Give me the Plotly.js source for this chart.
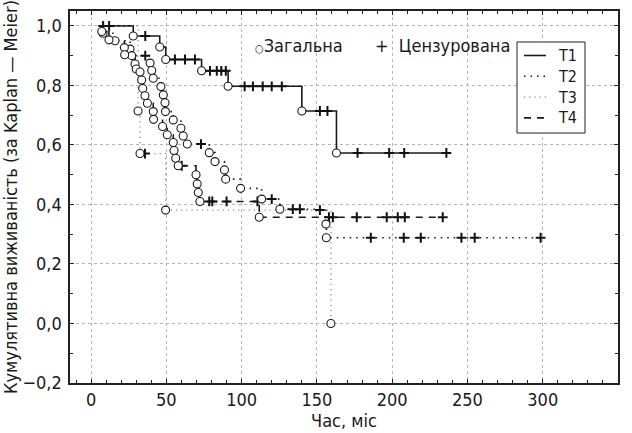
<!DOCTYPE html>
<html><head><meta charset="utf-8">
<script src="https://cdn.plot.ly/plotly-3.0.1.min.js"></script>
<style>html,body{margin:0;padding:0;background:#fff}#chart{width:632px;height:433px}</style>
</head><body><div id="chart"></div>
<script>
// Kaplan–Meier data (time in months, survival)
const seriesNames = ['T1', 'T2', 'T3', 'T4'];

const t1Event = [28, 45.6, 49.6, 73.4, 91, 140, 163];
const t1Surv  = [0.966, 0.929, 0.887, 0.849, 0.797, 0.714, 0.573];
const t1Cens  = [8, 12, 36, 55.7, 62.4, 69, 79, 83.5, 86.5, 89.5, 102, 107.5, 114, 120, 126.7, 152, 157, 177, 198, 208, 236];

const t2Event = [7.9, 15.9, 25.9, 27, 39.2, 40.3, 41.3, 46.4, 48, 49.1, 49.4, 54.6, 59.7, 61.2, 63.9, 78.5, 82.3, 88.6, 89.4, 99.3, 113.3, 125.4, 156, 156.3];
const t2Surv  = [0.975, 0.95, 0.922, 0.9, 0.875, 0.85, 0.824, 0.796, 0.768, 0.742, 0.712, 0.684, 0.656, 0.63, 0.603, 0.574, 0.544, 0.516, 0.485, 0.454, 0.418, 0.384, 0.334, 0.288];
const t2Cens  = [36, 73, 120, 134, 138.7, 185.8, 207.7, 219, 246, 254.8, 298.6];

const t3Event = [31.2, 32.5, 49.5, 159.3];
const t3Surv  = [0.714, 0.571, 0.381, 0.0];
const t3Cens  = [35.8, 152];

const t4Event = [7.1, 11.9, 22.1, 22.3, 29.2, 30, 32.5, 33.6, 34.3, 35.8, 37.4, 41.3, 41.5, 47.5, 50.6, 54.6, 55.1, 56.2, 57.9, 69.7, 70.5, 71.2, 72.3, 111.7];
const t4Surv  = [0.981, 0.953, 0.927, 0.903, 0.872, 0.855, 0.845, 0.818, 0.79, 0.765, 0.74, 0.712, 0.686, 0.662, 0.634, 0.608, 0.581, 0.555, 0.53, 0.5, 0.469, 0.44, 0.41, 0.357];
const t4Cens  = [60.2, 78.5, 80.5, 90, 110.5, 158, 160.6, 176.5, 196.4, 203.7, 208.4, 233.6];

const startTime = 6;

const xTickVals = [0, 50, 100, 150, 200, 250, 300, 350];
const yTickVals = [-0.2, 0, 0.2, 0.4, 0.6, 0.8, 1.0];

const labelEvent = 'Загальна';
const labelCens = 'Цензурована';

const FONT = '"Liberation Sans Narrow", "DejaVu Sans Condensed", "Roboto Condensed", sans-serif';

const styles = {
  T1: {color: '#1a1a1a', width: 1.6, dash: 'solid'},
  T2: {color: '#1a1a1a', width: 1.6, dash: '1.5px,5px'},
  T3: {color: '#8a8a8a', width: 1.3, dash: '1.2px,4px'},
  T4: {color: '#1a1a1a', width: 1.6, dash: '7px,6px'}
};

function stepAt(ev, sv, t) {
  let v = 1;
  for (let i = 0; i < ev.length; i++) if (ev[i] <= t) v = sv[i];
  return v;
}

const sets = [
  [t1Event, t1Surv, t1Cens],
  [t2Event, t2Surv, t2Cens],
  [t3Event, t3Surv, t3Cens],
  [t4Event, t4Surv, t4Cens]
];

const lineTraces = [], circleTraces = [], crossTraces = [];
sets.forEach(([ev, sv, cs], k) => {
  const name = seriesNames[k];
  const end = Math.max(ev[ev.length - 1], cs.length ? cs[cs.length - 1] : 0);
  const xs = [startTime].concat(ev, [end]);
  const ys = [1].concat(sv, [sv[sv.length - 1]]);
  lineTraces.push({
    type: 'scatter', mode: 'lines', name: name, x: xs, y: ys, showlegend: false,
    line: {shape: 'hv', color: styles[name].color, width: styles[name].width, dash: styles[name].dash},
    hoverinfo: 'skip'
  });
  circleTraces.push({
    type: 'scatter', mode: 'markers', x: ev, y: sv, showlegend: false,
    marker: {symbol: 'circle', size: 8, color: '#ffffff', line: {color: '#1a1a1a', width: 1.1}},
    hoverinfo: 'skip'
  });
  crossTraces.push({
    type: 'scatter', mode: 'markers', x: cs, y: cs.map(t => stepAt(ev, sv, t)), showlegend: false,
    marker: {symbol: 'cross-thin', size: 7, color: '#111', line: {color: '#111', width: 2}},
    hoverinfo: 'skip'
  });
});

const data = lineTraces.concat(crossTraces, circleTraces);

const axisCommon = {
  showline: true, linecolor: '#222', linewidth: 1.6, mirror: 'ticks',
  ticks: 'inside', ticklen: 4, tickcolor: '#222', tickwidth: 1,
  showgrid: true, gridcolor: '#b5b5b5', gridwidth: 1, griddash: 'dot',
  zeroline: false,
  tickfont: {family: FONT, size: 18, color: '#1a1a1a'}
};

// manual legend (box, line samples, one multi-line label block) in paper coordinates
const legX0 = 0.8157, legX1 = 0.9398, legY0 = 0.672, legY1 = 0.9167;
const legRowsY = [0.8804, 0.8245, 0.7686, 0.7126];
const shapes = [{type: 'rect', xref: 'paper', yref: 'paper', x0: legX0, x1: legX1, y0: legY0, y1: legY1,
  line: {color: '#222', width: 1}, fillcolor: '#ffffff', layer: 'above'}];
seriesNames.forEach((name, i) => {
  shapes.push({type: 'line', xref: 'paper', yref: 'paper', x0: 0.8285, x1: 0.8686, y0: legRowsY[i], y1: legRowsY[i],
    line: {color: styles[name].color, width: styles[name].width, dash: styles[name].dash}, layer: 'above'});
});
const annotations = [
  {xref: 'paper', yref: 'paper', x: 0.8868, y: 0.7965, xanchor: 'left', yanchor: 'middle', align: 'left',
   showarrow: false, text: seriesNames.join('<br>'), font: {family: FONT, size: 16, color: '#1a1a1a'}},
  {xref: 'paper', yref: 'paper', x: 0.334, y: 0.906, xanchor: 'left', yanchor: 'middle', showarrow: false,
   text: '<span style="font-size:11px">○</span>' + labelEvent, font: {family: FONT, size: 18, color: '#1a1a1a'}},
  {xref: 'paper', yref: 'paper', x: 0.553, y: 0.906, xanchor: 'left', yanchor: 'middle', showarrow: false,
   text: '+  ' + labelCens, font: {family: FONT, size: 18, color: '#1a1a1a'}}
];

const layout = {
  width: 632, height: 433,
  margin: {l: 70, r: 14, t: 11, b: 50},
  paper_bgcolor: '#ffffff', plot_bgcolor: '#ffffff',
  separators: ', ',
  font: {family: FONT, color: '#1a1a1a'},
  showlegend: false,
  xaxis: Object.assign({}, axisCommon, {
    range: [-14, 350], tickmode: 'array', tickvals: xTickVals,
    minor: {dtick: 10, tick0: 0, ticks: 'inside', ticklen: 3, tickcolor: '#222', showgrid: false},
    title: {text: 'Час, міс', font: {family: FONT, size: 18}, standoff: 4}
  }),
  yaxis: Object.assign({}, axisCommon, {
    range: [-0.2, 1.05], tickmode: 'array', tickvals: yTickVals, tickformat: '.1f',
    minor: {dtick: 0.1, tick0: 0, ticks: 'inside', ticklen: 3, tickcolor: '#222', showgrid: false},
    ticklabelstandoff: 3,
    title: {text: 'Кумулятивна виживаність (за Kaplan — Meier)', font: {family: FONT, size: 18}, standoff: 6}
  }),
  shapes: shapes,
  annotations: annotations
};

Plotly.newPlot('chart', data, layout, {staticPlot: true, displayModeBar: false});
</script>
</body></html>
